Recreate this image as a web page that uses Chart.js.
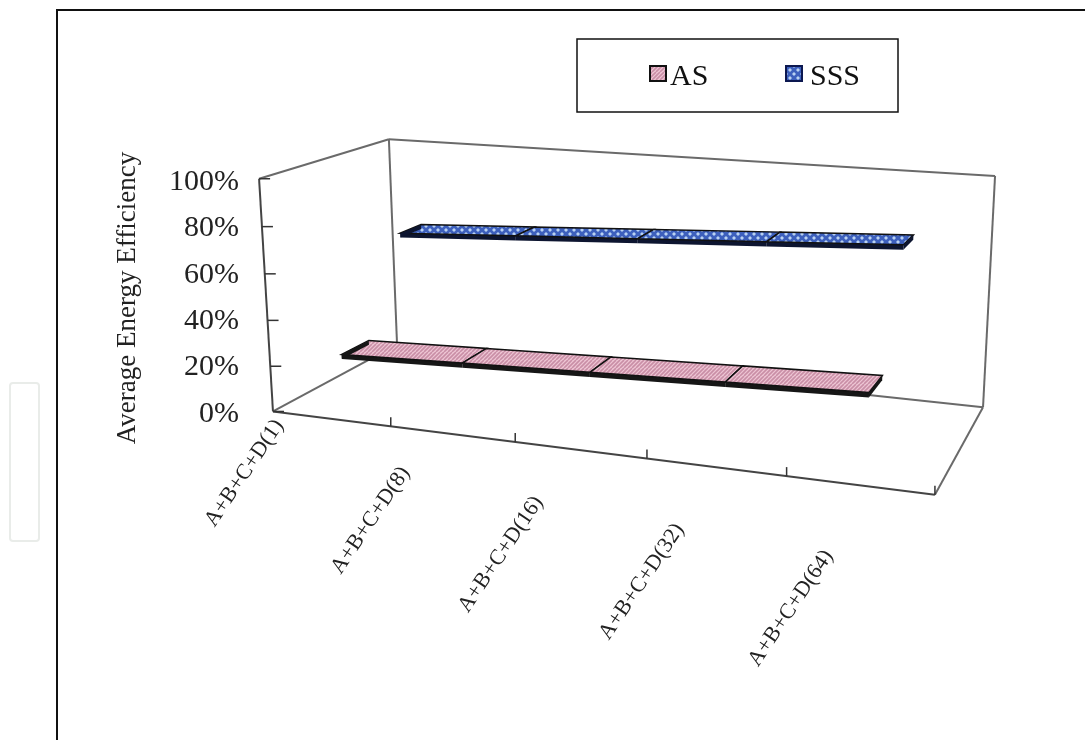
<!DOCTYPE html>
<html>
<head>
<meta charset="utf-8">
<script src="https://cdn.jsdelivr.net/npm/chart.js@4.4.1/dist/chart.umd.min.js"></script>
<style>
html,body{margin:0;padding:0;background:#fff;}
#wrap{position:absolute;left:0;top:0;width:1085px;height:740px;}
</style>
</head>
<body>
<div id="wrap"><canvas id="c"></canvas></div>
<script>
// ---- data ----
const categories = ['A+B+C+D(1)', 'A+B+C+D(8)', 'A+B+C+D(16)', 'A+B+C+D(32)', 'A+B+C+D(64)'];
const asValues  = [0.25, 0.27, 0.29, 0.31, 0.33];
const sssValues = [0.66, 0.69, 0.72, 0.75, 0.78];
const seriesNames = ['AS', 'SSS'];
const yTickStep = 0.2;

// ---- layout / style (not data) ----
const FRAME = [ // [u, v, w, px, py] corners of the 3D box in the picture
  [0,0,0,273,411],[0,1,0,259,179],[1,0,0,935,495],
  [0,0,1,397,345],[0,1,1,389,139],[1,0,1,983,407],[1,1,1,995,176]
];
const SERIF = "'Liberation Serif','Times New Roman',serif";
const seriesStyle = {
  AS:  {depth:[0.10,0.31], base:'#eec6d4', stripe:'#c98ea6', kind:'stripe', edge:'#161616', icon:'#111'},
  SSS: {depth:[0.60,0.78], base:'#3d60bd', stripe:'#b9d2f2', kind:'dots', edge:'#0d1530', icon:'#0c1850'}
};

function fitCamera(pts){
  const n=11, M=Array.from({length:n},()=>new Array(n+1).fill(0));
  const rows=[];
  for(const [X,Y,Z,x,y] of pts){
    rows.push([[X,Y,Z,1,0,0,0,0,-x*X,-x*Y,-x*Z],x]);
    rows.push([[0,0,0,0,X,Y,Z,1,-y*X,-y*Y,-y*Z],y]);
  }
  for(const [a,b] of rows){
    for(let i=0;i<n;i++){for(let j=0;j<n;j++)M[i][j]+=a[i]*a[j];M[i][n]+=a[i]*b;}
  }
  for(let c=0;c<n;c++){
    let p=c;for(let r=c+1;r<n;r++)if(Math.abs(M[r][c])>Math.abs(M[p][c]))p=r;
    const t=M[c];M[c]=M[p];M[p]=t;
    for(let r=0;r<n;r++){if(r===c)continue;const f=M[r][c]/M[c][c];for(let k=c;k<=n;k++)M[r][k]-=f*M[c][k];}
  }
  return M.map((r,i)=>r[n]/r[i]);
}
const CAM = fitCamera(FRAME);
function P(u,v,w){
  const c=CAM, d=c[8]*u+c[9]*v+c[10]*w+1;
  return {x:(c[0]*u+c[1]*v+c[2]*w+c[3])/d, y:(c[4]*u+c[5]*v+c[6]*w+c[7])/d};
}

function makePattern(ctx, st){
  const cv=document.createElement('canvas');cv.width=8;cv.height=8;
  const g=cv.getContext('2d');
  g.fillStyle=st.base;g.fillRect(0,0,8,8);
  g.strokeStyle=st.stripe;g.fillStyle=st.stripe;
  if(st.kind==='stripe'){
    g.lineWidth=1.6;
    for(let k=-8;k<=16;k+=4){g.beginPath();g.moveTo(k,8);g.lineTo(k+8,0);g.stroke();}
  } else {
    g.beginPath();g.moveTo(2,0);g.lineTo(4,2);g.lineTo(2,4);g.lineTo(0,2);g.closePath();g.fill();
    g.beginPath();g.moveTo(6,4);g.lineTo(8,6);g.lineTo(6,8);g.lineTo(4,6);g.closePath();g.fill();
  }
  return ctx.createPattern(cv,'repeat');
}

function poly(ctx, pts){ctx.beginPath();pts.forEach((p,i)=>i?ctx.lineTo(p.x,p.y):ctx.moveTo(p.x,p.y));ctx.closePath();}
function line(ctx,a,b){ctx.beginPath();ctx.moveTo(a.x,a.y);ctx.lineTo(b.x,b.y);ctx.stroke();}

const scene = {
  id:'scene',
  beforeDatasetsDraw(chart){
    const ctx=chart.ctx; ctx.save();
    // outer border (left and top only visible)
    ctx.strokeStyle='#111';ctx.lineWidth=2;
    ctx.beginPath();ctx.moveTo(57,740);ctx.lineTo(57,10);ctx.lineTo(1085,10);ctx.stroke();
    // faint box at far left
    ctx.strokeStyle='#e9ece9';ctx.lineWidth=2;
    ctx.beginPath();ctx.roundRect?ctx.roundRect(10,383,29,158,3):ctx.rect(10,383,29,158);ctx.stroke();
    // 3D frame
    ctx.strokeStyle='#6a6a6a';ctx.lineWidth=2;
    line(ctx,P(0,1,0),P(0,1,1));
    line(ctx,P(0,1,1),P(1,1,1));
    line(ctx,P(0,1,1),P(0,0,1));
    line(ctx,P(1,1,1),P(1,0,1));
    line(ctx,P(0,0,1),P(1,0,1));
    line(ctx,P(0,0,0),P(0,0,1));
    line(ctx,P(1,0,0),P(1,0,1));
    ctx.strokeStyle='#444';
    line(ctx,P(0,0,0),P(0,1,0));
    line(ctx,P(0,0,0),P(1,0,0));
    // value-axis ticks
    const ys=chart.scales.y;
    ctx.strokeStyle='#333';ctx.lineWidth=1.5;
    ys.ticks.forEach(t=>{const p=P(0,t.value,0);line(ctx,p,{x:p.x+11,y:p.y});});
    // category ticks
    const xs=chart.scales.x, ca=chart.chartArea, n=categories.length;
    for(let i=0;i<n;i++){
      const a=xs.getPixelForValue(i), b=i<n-1?xs.getPixelForValue(i+1):ca.right+(ca.right-a);
      const u=((a+b)/2-ca.left)/(ca.right-ca.left);
      const p=P(u,0,0);line(ctx,p,{x:p.x,y:p.y-9});
    }
    ctx.restore();
  },
  afterDatasetsDraw(chart){
    const ctx=chart.ctx, ca=chart.chartArea; ctx.save();
    const order=[1,0]; // back series first
    order.forEach(di=>{
      const ds=chart.data.datasets[di], st=seriesStyle[ds.label];
      const meta=chart.getDatasetMeta(di);
      const pts=meta.data.map(e=>({u:(e.x-ca.left)/(ca.right-ca.left), v:(ca.bottom-e.y)/(ca.bottom-ca.top)}));
      const [w0,w1]=st.depth, th=0.02;
      const pat=makePattern(ctx,st);
      for(let i=0;i<pts.length-1;i++){
        const a=pts[i], b=pts[i+1];
        ctx.fillStyle=st.edge;
        poly(ctx,[P(a.u,a.v,w0),P(b.u,b.v,w0),P(b.u,b.v-th,w0),P(a.u,a.v-th,w0)]);ctx.fill();
        ctx.fillStyle=pat;
        poly(ctx,[P(a.u,a.v,w0),P(b.u,b.v,w0),P(b.u,b.v,w1),P(a.u,a.v,w1)]);ctx.fill();
        ctx.strokeStyle='#111';ctx.lineWidth=1.5;ctx.stroke();
      }
      const e=pts[pts.length-1];
      ctx.fillStyle=st.edge;
      poly(ctx,[P(e.u,e.v,w0),P(e.u,e.v,w1),P(e.u,e.v-th,w1),P(e.u,e.v-th,w0)]);ctx.fill();
      const f=pts[0];
      poly(ctx,[P(f.u,f.v,w0),P(f.u,f.v,w1),P(f.u,f.v-th,w1),P(f.u,f.v-th,w0)]);ctx.fill();
    });
    // category labels
    const xs=chart.scales.x;
    ctx.fillStyle='#222';ctx.font='22px '+SERIF;ctx.textAlign='right';ctx.textBaseline='middle';
    xs.getLabels().forEach((lab,i)=>{
      const u=(xs.getPixelForValue(i)-ca.left)/(ca.right-ca.left);
      const p=P(u,0,0), t=(u-0.1)/0.8;
      const ax=p.x-52+21*t, ay=p.y+3+64*Math.sqrt(t);
      ctx.save();ctx.translate(ax,ay);ctx.rotate(-56*Math.PI/180);ctx.fillText(lab,0,0);ctx.restore();
    });
    // legend
    ctx.strokeStyle='#111';ctx.lineWidth=1.5;ctx.strokeRect(577,39,321,73);
    ctx.font='30px '+SERIF;ctx.textAlign='left';ctx.textBaseline='alphabetic';
    const iconX=[650,786], textX=[670,810];
    chart.data.datasets.forEach((ds,di)=>{
      const st=seriesStyle[ds.label];
      ctx.fillStyle=makePattern(ctx,st);ctx.fillRect(iconX[di],66,16,15);
      ctx.strokeStyle=st.icon;ctx.lineWidth=2;ctx.strokeRect(iconX[di],66,16,15);
      ctx.fillStyle='#111';ctx.fillText(ds.label,textX[di],85);
    });
    ctx.restore();
  }
};

new Chart(document.getElementById('c'), {
  type:'line',
  data:{
    labels:categories,
    datasets:[
      {label:seriesNames[0], data:asValues, showLine:false, pointRadius:0, borderWidth:0},
      {label:seriesNames[1], data:sssValues, showLine:false, pointRadius:0, borderWidth:0}
    ]
  },
  options:{
    responsive:true, maintainAspectRatio:false, animation:false,
    layout:{padding:{left:108, top:182, bottom:740-414, right:150}},
    plugins:{legend:{display:false}, tooltip:{enabled:false}},
    scales:{
      x:{type:'category', offset:true, display:false},
      y:{
        min:0, max:1,
        grid:{display:false, drawTicks:false}, border:{display:false},
        ticks:{stepSize:yTickStep, padding:23, color:'#222', font:{family:SERIF, size:30},
               callback:v=>Math.round(v*100)+'%'},
        title:{display:true, text:'Average Energy Efficiency', color:'#222', font:{family:SERIF, size:27}, padding:{top:4,bottom:4}},
        afterFit:s=>{s.width=262-108;}
      }
    }
  },
  plugins:[scene]
});
</script>
</body>
</html>
